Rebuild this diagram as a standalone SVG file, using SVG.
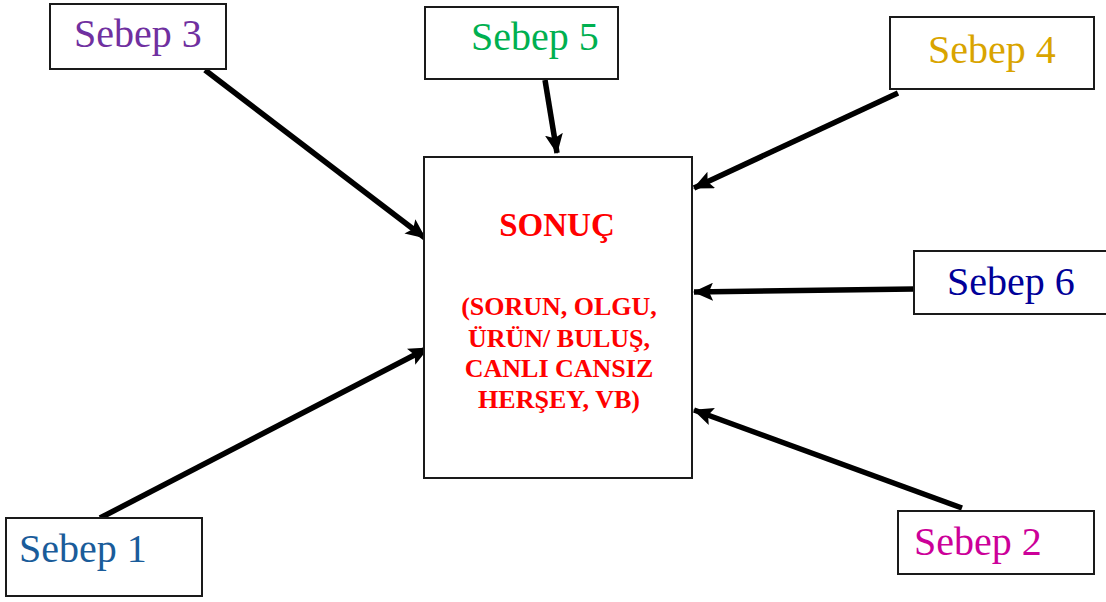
<svg xmlns="http://www.w3.org/2000/svg" width="1106" height="602" viewBox="0 0 1106 602">
<style>
.box{fill:#fff;stroke:#1a1a1a;stroke-width:2}
.lbl{font-family:"Liberation Serif","DejaVu Serif",serif;font-size:40px;text-anchor:middle}
.res{font-family:"Liberation Serif","DejaVu Serif",serif;font-weight:bold;fill:#ff0000;text-anchor:middle}
.conn{stroke:#000;stroke-width:5.5;fill:none;marker-end:url(#ah)}
</style>
<defs>
<marker id="ah" markerUnits="userSpaceOnUse" markerWidth="22" markerHeight="18" refX="19" refY="9" orient="auto">
<path d="M0,0 L20,9 L0,18 L4,9 Z" fill="#000"/>
</marker>
</defs>
<rect width="1106" height="602" fill="#fff"/>
<g id="connectors">
<line class="conn" x1="205" y1="70" x2="425" y2="238"/>
<line class="conn" x1="545" y1="80" x2="557" y2="153"/>
<line class="conn" x1="898" y1="93" x2="694" y2="188"/>
<line class="conn" x1="914" y1="289" x2="694" y2="292"/>
<line class="conn" x1="962" y1="508" x2="694" y2="410"/>
<line class="conn" x1="100" y1="518" x2="428" y2="348"/>
</g>
<g id="sonuc">
<rect class="box" x="424" y="157" width="268" height="321"/>
<text class="res" x="557" y="236" font-size="33">SONUÇ</text>
<text class="res" x="559" y="315" font-size="26">(SORUN, OLGU,</text>
<text class="res" x="559" y="347" font-size="26">ÜRÜN/ BULUŞ,</text>
<text class="res" x="559" y="377" font-size="26">CANLI CANSIZ</text>
<text class="res" x="559" y="408" font-size="26">HERŞEY, VB)</text>
</g>
<g id="sebep3">
<rect class="box" x="50" y="4" width="176" height="65"/>
<text class="lbl" x="138" y="47" fill="#7030a0">Sebep 3</text>
</g>
<g id="sebep5">
<rect class="box" x="425" y="7" width="193" height="72"/>
<text class="lbl" x="535" y="50" fill="#00b050">Sebep 5</text>
</g>
<g id="sebep4">
<rect class="box" x="890" y="17" width="204" height="72"/>
<text class="lbl" x="992" y="63" fill="#d9a400">Sebep 4</text>
</g>
<g id="sebep6">
<rect class="box" x="914" y="251" width="200" height="63"/>
<text class="lbl" x="1011" y="295" fill="#000099">Sebep 6</text>
</g>
<g id="sebep2">
<rect class="box" x="898" y="511" width="196" height="63"/>
<text class="lbl" x="978" y="555" fill="#cc0099">Sebep 2</text>
</g>
<g id="sebep1">
<rect class="box" x="6" y="518" width="196" height="78"/>
<text class="lbl" x="83" y="562" fill="#1a5c9a">Sebep 1</text>
</g>
</svg>
